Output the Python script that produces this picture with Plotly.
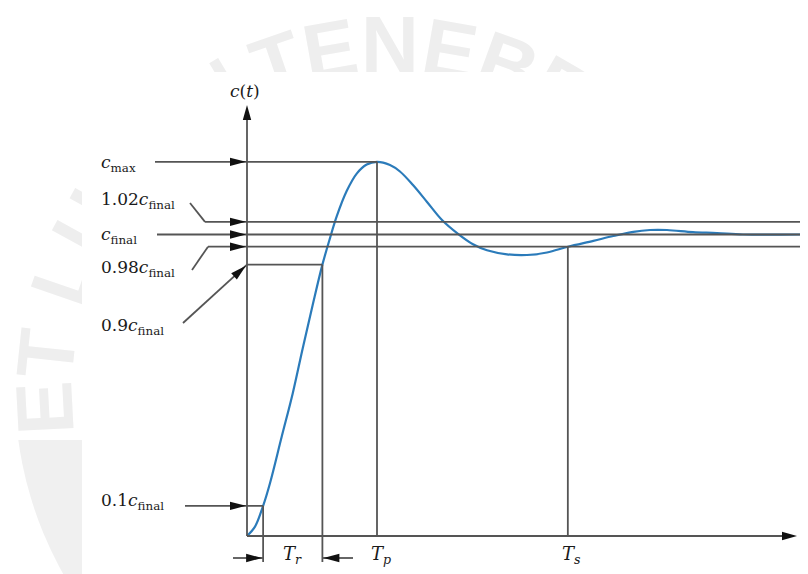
import base64
import math
import plotly.graph_objects as go

# ---------------- data ----------------
t_vals = [0.0, 0.154, 0.31, 0.442, 0.667, 0.879, 1.071, 1.263, 1.45, 1.596, 1.725,
          1.917, 2.110, 2.302, 2.5, 2.75, 2.942, 3.192, 3.462, 3.75, 4.058, 4.346,
          4.615, 5.0, 5.385, 5.769, 6.17, 6.66, 7.044, 7.429, 7.75, 8.077, 8.577,
          9.038, 9.538, 10.635]
c_vals = [0.0, 0.031, 0.1, 0.175, 0.329, 0.473, 0.622, 0.766, 0.9, 0.988, 1.060,
          1.144, 1.202, 1.232, 1.241, 1.2305, 1.209, 1.164, 1.108, 1.048, 1.002, 0.9675,
          0.9476, 0.9343, 0.932, 0.9403, 0.9595, 0.979, 0.995, 1.009, 1.015, 1.015, 1.008,
          1.005, 1.0, 1.0]

level_names = ["c_max", "1.02c_final", "c_final", "0.98c_final", "0.9c_final", "0.1c_final"]
level_values = [1.241, 1.042, 1.0, 0.9595, 0.9, 0.1]
level_labels = ["<i>c</i><sub>max</sub>", "1.02<i>c</i><sub>final</sub>",
                "<i>c</i><sub>final</sub>", "0.98<i>c</i><sub>final</sub>",
                "0.9<i>c</i><sub>final</sub>", "0.1<i>c</i><sub>final</sub>"]

time_names = ["Tr_start", "Tr_end", "Tp", "Ts"]
time_values = [0.31, 1.45, 2.5, 6.17]
time_labels = ["<i>T<sub>r</sub></i>", "<i>T<sub>p</sub></i>", "<i>T<sub>s</sub></i>"]
axis_title = "<i>c</i>(<i>t</i>)"

# ---------------- layout helpers ----------------
PW, PH = 808, 574          # browser page size
OFF = 8                    # default body margin of the written html page
W, H = PW - OFF, PH - OFF  # figure size so that it fills the page exactly
OX, OY = 247, 536          # page pixel position of the origin
KT, KC = 52.0, 301.5       # pixels per unit of t and of c


def px2t(px):
    return (px - OX) / KT


def py2c(py):
    return (OY - py) / KC


cmax, band_hi, cfin, band_lo, c90, c10 = level_values
tr0, tr1, tp, ts = time_values

GRAY = "#555555"
LW = 1.8
BLACK = "#111111"
FONT = "DejaVu Serif"

t_end = px2t(802)
t_xtip = px2t(797)
c_ytip = py2c(105)
c_bottom = py2c(562)
c_arrows = py2c(558)

shapes = []


def seg(x0, y0, x1, y1, color=GRAY, width=LW):
    shapes.append(dict(type="line", xref="x", yref="y", x0=x0, y0=y0, x1=x1, y1=y1,
                       line=dict(color=color, width=width), layer="above"))


def head(t, c, ux, uy, L=16, w=4.2, back=0.0):
    n = math.hypot(ux, uy)
    ux, uy = ux / n, uy / n
    tx, ty = -back * ux, -back * uy
    bx, by = tx - L * ux, ty - L * uy
    p1 = (bx - w * uy, by + w * ux)
    p2 = (bx + w * uy, by - w * ux)
    path = f"M{tx:.2f},{ty:.2f} L{p1[0]:.2f},{p1[1]:.2f} L{p2[0]:.2f},{p2[1]:.2f} Z"
    shapes.append(dict(type="path", xref="x", yref="y", xsizemode="pixel", ysizemode="pixel",
                       xanchor=t, yanchor=c, path=path, fillcolor=BLACK,
                       line=dict(width=0), layer="above"))


# axes
seg(0, 0, 0, c_ytip - 0.02)
seg(0, 0, t_xtip - 0.1, 0)
head(0, c_ytip, 0, 1, L=15)
head(t_xtip, 0, 1, 0, L=15)

# level lines
seg(px2t(155), cmax, tp, cmax)
seg(px2t(190), py2c(203), px2t(205), band_hi)
seg(px2t(205), band_hi, t_end, band_hi)
seg(px2t(157), cfin, t_end, cfin)
seg(px2t(192), py2c(270), px2t(208), band_lo)
seg(px2t(208), band_lo, t_end, band_lo)
seg(px2t(183), py2c(323), 0, c90)
seg(0, c90, tr1, c90)
seg(px2t(185), c10, tr0, c10)

for lv in (cmax, band_hi, cfin, band_lo, c10):
    head(0, lv, 1, 0, back=1)
head(0, c90, 64, 58, back=1.5)

# vertical time lines
seg(tr0, c10, tr0, c_bottom)
seg(tr1, c90, tr1, c_bottom)
seg(tp, cmax, tp, 0)
seg(ts, band_lo, ts, 0)

# rise time arrows
seg(px2t(233), c_arrows, tr0, c_arrows)
seg(px2t(353), c_arrows, tr1, c_arrows)
head(tr0, c_arrows, 1, 0, back=1)
head(tr1, c_arrows, -1, 0, back=1)

# ---------------- annotations ----------------
ann = []
label_px = [(99, 163), (99, 200), (99, 235), (99, 268), (99, 326), (99, 501)]
for txt, (lx, ly) in zip(level_labels, label_px):
    ann.append(dict(x=px2t(lx), y=py2c(ly), xref="x", yref="y", text=txt, showarrow=False,
                    xanchor="left", yanchor="middle",
                    font=dict(family=FONT, size=17, color="#1a1a1a")))
ann.append(dict(x=px2t(245), y=py2c(91), xref="x", yref="y", text=axis_title, showarrow=False,
                xanchor="center", yanchor="middle",
                font=dict(family=FONT, size=17, color="#1a1a1a")))
for txt, px in zip(time_labels, (292, 381, 571)):
    ann.append(dict(x=px2t(px), y=py2c(555), xref="x", yref="y", text=txt, showarrow=False,
                    xanchor="center", yanchor="middle",
                    font=dict(family=FONT, size=18, color="#1a1a1a")))

# ---------------- faint seal watermark (background graphic) ----------------
wm_letters = ["E", "T", "L", "U", "X", "I", "N", "T", "E", "N", "E", "B", "R", "I", "S"]
wm_angles = [-93, -84, -71, -61, -51, -40, -31, -19, -10, 0, 10, 20, 30, 38, 45]
svg = [f'<svg xmlns="http://www.w3.org/2000/svg" width="{W}" height="{H}" '
       f'viewBox="{OFF} {OFF} {W} {H}" preserveAspectRatio="none">',
       '<clipPath id="b"><rect x="0" y="440" width="808" height="140"/></clipPath>',
       '<circle cx="390" cy="390" r="375" fill="#f0f0f0" clip-path="url(#b)"/>']
for ch, a in zip(wm_letters, wm_angles):
    svg.append(f'<text transform="translate(390,390) rotate({a}) translate(0,-318)" '
               f'text-anchor="middle" font-family="Liberation Sans" font-weight="bold" '
               f'font-size="80" fill="#eeeeee">{ch}</text>')
svg.append('<rect x="82" y="72" width="726" height="502" fill="#ffffff"/>')
svg.append('</svg>')
svg_uri = "data:image/svg+xml;base64," + base64.b64encode("".join(svg).encode()).decode()

# ---------------- figure ----------------
fig = go.Figure()
fig.add_trace(go.Scatter(x=t_vals, y=c_vals, mode="lines",
                         line=dict(color="#2b7bba", width=2.2, shape="spline", smoothing=1.0),
                         hoverinfo="skip", showlegend=False))

fig.update_layout(
    width=W, height=H,
    margin=dict(l=0, r=0, t=0, b=0),
    paper_bgcolor="#ffffff", plot_bgcolor="#ffffff",
    xaxis=dict(range=[px2t(OFF), px2t(PW)], visible=False, fixedrange=True),
    yaxis=dict(range=[py2c(PH), py2c(OFF)], visible=False, fixedrange=True),
    shapes=shapes, annotations=ann,
    images=[dict(source=svg_uri, xref="paper", yref="paper", x=0, y=1, sizex=1, sizey=1,
                 xanchor="left", yanchor="top", sizing="stretch", layer="below")],
    showlegend=False, hovermode=False,
)

fig.write_html("out.html", config={"displayModeBar": False})
